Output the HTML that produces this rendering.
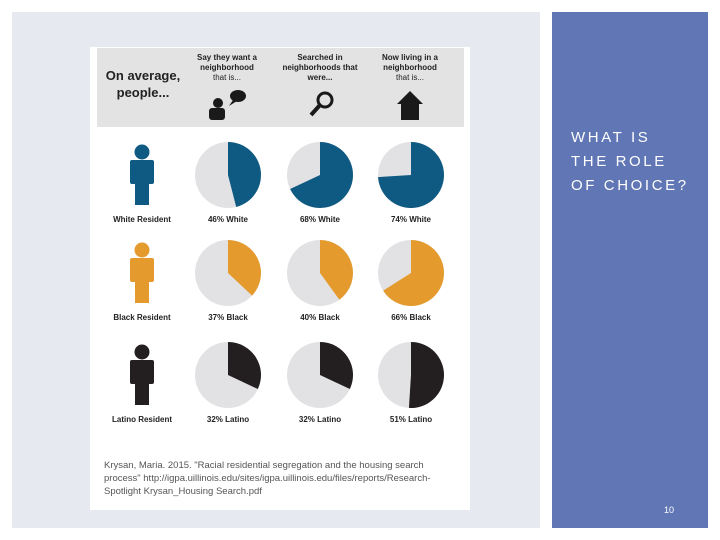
<!DOCTYPE html>
<html><head><meta charset="utf-8"><style>
body{margin:0;width:720px;height:540px;background:#fff;position:relative;overflow:hidden;font-family:"Liberation Sans",sans-serif}
.abs{position:absolute}
</style></head><body>
<div class="abs" style="left:12px;top:12px;width:528px;height:516px;background:#e6e9ef"></div>
<div class="abs" style="left:552px;top:12px;width:156px;height:516px;background:#6177b5"></div>
<div class="abs" style="left:571px;top:126px;color:#fff;font-size:15px;letter-spacing:2.6px;line-height:24px">WHAT IS<br>THE ROLE<br>OF CHOICE?</div>
<div class="abs" style="left:664px;top:505px;color:#fff;font-size:9px">10</div>
<svg class="abs" style="left:0;top:0" width="720" height="540">
<rect x="90" y="47" width="380" height="463" fill="#fff"/>
<rect x="97" y="48" width="367" height="79" fill="#e3e3e3"/>
<g font-weight="bold" fill="#222">
<text x="143" y="80" font-size="13" text-anchor="middle">On average,</text>
<text x="143" y="97" font-size="13" text-anchor="middle">people...</text>
<g font-size="8" text-anchor="middle">
<text x="227" y="60">Say they want a</text><text x="227" y="70">neighborhood</text><text x="227" y="80" font-weight="normal">that is...</text>
<text x="320" y="60">Searched in</text><text x="320" y="70">neighborhoods that</text><text x="320" y="80">were...</text>
<text x="410" y="60">Now living in a</text><text x="410" y="70">neighborhood</text><text x="410" y="80" font-weight="normal">that is...</text>
</g></g>
<g fill="#1a1a1a">
<circle cx="218" cy="103" r="5"/><rect x="209" y="108" width="16" height="12" rx="3"/>
<ellipse cx="238" cy="96" rx="8" ry="6"/><path d="M233 100 L229 106 L237 101Z"/>
<circle cx="325" cy="100" r="7" fill="none" stroke="#1a1a1a" stroke-width="3"/><line x1="320" y1="105" x2="311" y2="115" stroke="#1a1a1a" stroke-width="4"/>
<path d="M397 104 L410 91 L423 104 L419 104 L419 120 L401 120 L401 104Z"/>
</g>
<g id="pies"></g>
<g font-size="9.5" fill="#555">
<text x="104" y="468">Krysan, Maria. 2015. "Racial residential segregation and the housing search</text>
<text x="104" y="481">process" http://igpa.uillinois.edu/sites/igpa.uillinois.edu/files/reports/Research-</text>
<text x="104" y="494">Spotlight Krysan_Housing Search.pdf</text>
</g>
</svg>
<script>
const groups=["White","Black","Latino"];
const colors=["#0f5a82","#e59a2e","#231f20"];
const whiteVals=[46,68,74];
const blackVals=[37,40,66];
const latinoVals=[32,32,51];
const values=[whiteVals,blackVals,latinoVals];
const ns="http://www.w3.org/2000/svg";
const g=document.getElementById("pies");
const colX=[228,320,411], rowY=[175,273,375], R=33;
function mk(t,a){const e=document.createElementNS(ns,t);for(const k in a)e.setAttribute(k,a[k]);g.appendChild(e);return e;}
values.forEach((vals,r)=>{
  const cy=rowY[r];
  const p=mk("path",{d:`M132 ${cy-15} h20 q2 0 2 2 v20 q0 2 -2 2 h-3 v21 h-14 v-21 h-3 q-2 0 -2 -2 v-20 q0 -2 2 -2Z`,fill:colors[r]});
  
  
  const h=mk("circle",{cx:142,cy:cy-23,r:7.5,fill:colors[r]});
  
  
  const rl=mk("text",{x:142,y:cy+47,"font-size":"8","text-anchor":"middle",fill:"#222","font-weight":"bold","font-family":"Liberation Sans"});
  rl.textContent=groups[r]+" Resident";
  
  
  vals.forEach((v,c)=>{
    const cx=colX[c];
    const bg=mk("circle",{cx,cy,r:R,fill:"#e2e2e4"});
    
    
    const a=v/100*2*Math.PI;
    const x=cx+R*Math.sin(a), y=cy-R*Math.cos(a);
    const s=mk("path",{d:`M${cx} ${cy} L${cx} ${cy-R} A${R} ${R} 0 ${v>50?1:0} 1 ${x} ${y}Z`,fill:colors[r]});
    
    
    const t=mk("text",{x:cx,y:cy+47,"font-size":"8","text-anchor":"middle",fill:"#222","font-weight":"bold","font-family":"Liberation Sans"});
    t.textContent=v+"% "+groups[r];
    
    
  });
});
</script>
</body></html>
